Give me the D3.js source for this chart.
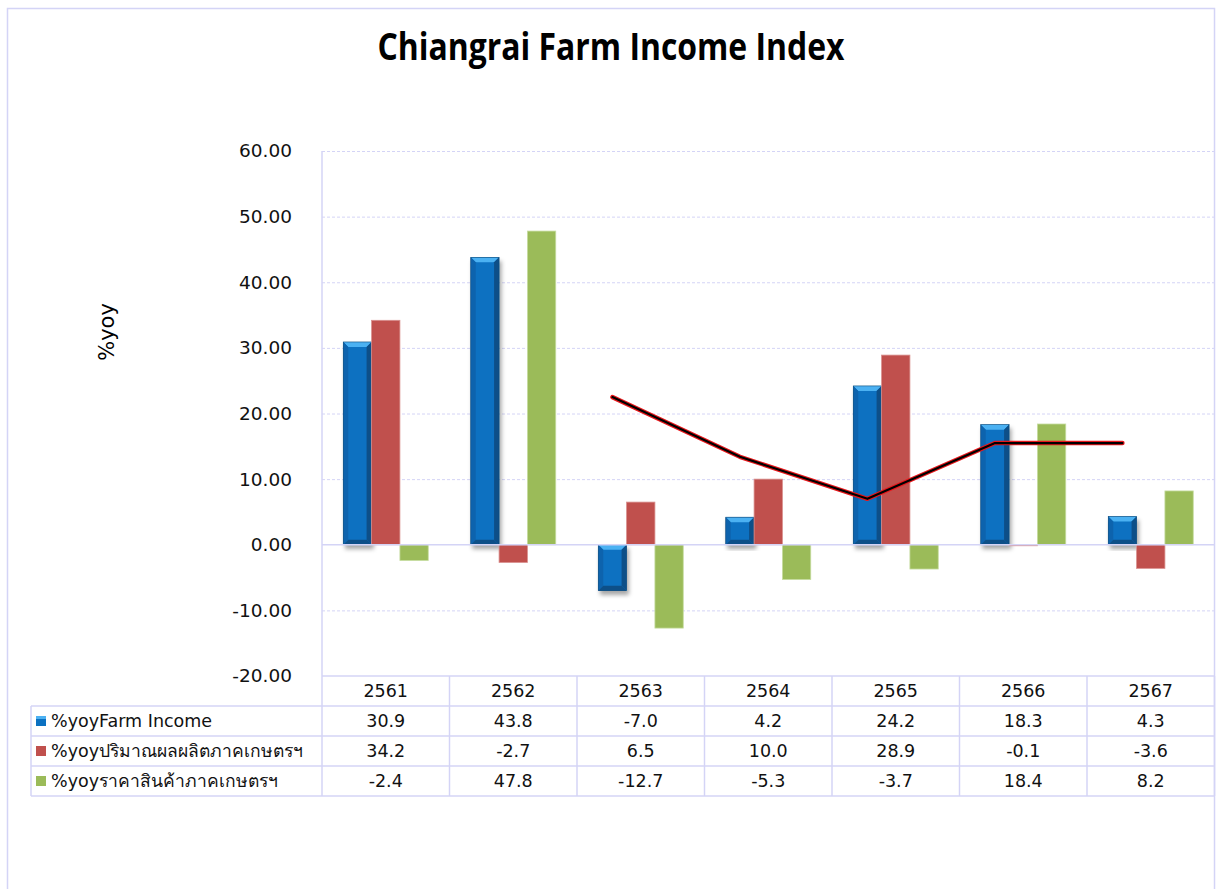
<!DOCTYPE html>
<html>
<head>
<meta charset="utf-8">
<script src="https://cdn.jsdelivr.net/npm/d3@7"></script>
<style>
  body { margin: 0; background: #fff; }
  svg { display: block; font-family: "DejaVu Sans", "Noto Sans", sans-serif; }
</style>
</head>
<body>
<svg id="chart" width="1216" height="889"></svg>
<script>
// chart values
const years = ["2561", "2562", "2563", "2564", "2565", "2566", "2567"];
const seriesNames = ["%yoyFarm Income", "%yoyปริมาณผลผลิตภาคเกษตรฯ", "%yoyราคาสินค้าภาคเกษตรฯ"];
const farmIncome = [30.9, 43.8, -7.0, 4.2, 24.2, 18.3, 4.3];
const farmOutput = [34.2, -2.7, 6.5, 10.0, 28.9, -0.1, -3.6];
const farmPrice = [-2.4, 47.8, -12.7, -5.3, -3.7, 18.4, 8.2];
// extra line drawn on the chart (not in the table)
const trendLine = [null, null, 22.5, 13.4, 7.0, 15.5, 15.5];
const yTicks = [60, 50, 40, 30, 20, 10, 0, -10, -20];

const series = [farmIncome, farmOutput, farmPrice];
const colors = ["#0b71c1", "#c0504d", "#9bbb59"];
const gridColor = "#d4d4f6";

const svg = d3.select("#chart");

const plot = { left: 322, right: 1214.5, top: 151, bottom: 676 };

const x = d3.scaleBand().domain(years).range([plot.left, plot.right]);
const xs = d3.scaleBand().domain([0, 1, 2]).range([0, x.bandwidth()]).paddingOuter(0.75);
const y = d3.scaleLinear().domain([-20, 60]).range([plot.bottom, plot.top]);

// defs: shadow for the bevelled bars
const defs = svg.append("defs");
const f = defs.append("filter").attr("id", "shadow")
  .attr("x", "-30%").attr("y", "-10%").attr("width", "160%").attr("height", "130%");
f.append("feDropShadow").attr("dx", 2).attr("dy", 4).attr("stdDeviation", 2.2)
  .attr("flood-color", "#000").attr("flood-opacity", 0.35);

// outer frame
svg.append("rect")
  .attr("x", 7.5).attr("y", 8.5).attr("width", 1207).attr("height", 900)
  .attr("fill", "none").attr("stroke", gridColor).attr("stroke-width", 1.5);

// title
svg.append("text")
  .attr("x", 611).attr("y", 60)
  .attr("text-anchor", "middle")
  .attr("font-family", "'Open Sans', Roboto, sans-serif")
  .attr("font-weight", "bold").attr("font-size", 37)
  .attr("textLength", 467).attr("lengthAdjust", "spacingAndGlyphs")
  .text("Chiangrai Farm Income Index");

// y axis title
svg.append("text")
  .attr("transform", "translate(114,332) rotate(-90)")
  .attr("text-anchor", "middle").attr("font-size", 21)
  .text("%yoy");

// grid
const grid = svg.append("g")
  .attr("transform", `translate(${plot.left},0)`)
  .call(d3.axisLeft(y).tickValues(yTicks.filter(d => d !== 0 && d !== -20))
    .tickSize(-(plot.right - plot.left)).tickFormat(""));
grid.select(".domain").remove();
grid.selectAll("line").attr("stroke", gridColor).attr("stroke-dasharray", "3,2");

// tick labels
const yAxis = svg.append("g")
  .attr("transform", `translate(${plot.left},0)`)
  .call(d3.axisLeft(y).tickValues(yTicks).tickSize(0).tickPadding(30)
    .tickFormat(d => d.toFixed(2)));
yAxis.select(".domain").remove();
yAxis.selectAll("text").attr("font-size", 18.5).attr("fill", "#111")
  .attr("font-family", "'DejaVu Sans', sans-serif");

// axis line
svg.append("line")
  .attr("x1", plot.left).attr("x2", plot.left)
  .attr("y1", plot.top).attr("y2", plot.bottom)
  .attr("stroke", gridColor).attr("stroke-width", 1.5);

// bars
const barData = [];
years.forEach((yr, i) => {
  series.forEach((s, k) => barData.push({ year: yr, k: k, v: s[i] }));
});

const bars = svg.append("g").selectAll("g.bar")
  .data(barData)
  .join("g")
  .attr("class", "bar");

bars.each(function (d) {
  const g = d3.select(this);
  const x0 = x(d.year) + xs(d.k);
  const w = xs.bandwidth();
  const y0 = Math.min(y(d.v), y(0));
  const y1 = Math.max(y(d.v), y(0));
  const h = y1 - y0;
  if (d.k === 0) {
    // bevelled blue bar
    const b = Math.min(5, w / 2, h / 2);
    const x1 = x0 + w;
    const bg = g.append("g").attr("filter", "url(#shadow)");
    bg.append("rect").attr("x", x0).attr("y", y0).attr("width", w).attr("height", h)
      .attr("fill", colors[0]);
    const poly = pts => pts.map(p => p.join(",")).join(" ");
    bg.append("polygon").attr("points", poly([[x0, y0], [x1, y0], [x1 - b, y0 + b], [x0 + b, y0 + b]]))
      .attr("fill", "#4cb1f2");
    bg.append("polygon").attr("points", poly([[x0, y0], [x0 + b, y0 + b], [x0 + b, y1 - b], [x0, y1]]))
      .attr("fill", "#0a63ad");
    bg.append("polygon").attr("points", poly([[x1, y0], [x1, y1], [x1 - b, y1 - b], [x1 - b, y0 + b]]))
      .attr("fill", "#0a4f88");
    bg.append("polygon").attr("points", poly([[x0, y1], [x1, y1], [x1 - b, y1 - b], [x0 + b, y1 - b]]))
      .attr("fill", "#0a4f88");
    bg.append("rect").attr("x", x0).attr("y", y0).attr("width", w).attr("height", h)
      .attr("fill", "none").attr("stroke", "#0d4a7a").attr("stroke-width", 0.6);
  } else {
    g.append("rect").attr("x", x0).attr("y", y0).attr("width", w).attr("height", Math.max(h, 1))
      .attr("fill", colors[d.k])
      .attr("stroke", d.k === 2 ? "#c6dca0" : "#d9908e").attr("stroke-width", 0.8);
  }
});

// zero line
svg.append("line")
  .attr("x1", plot.left).attr("x2", plot.right)
  .attr("y1", y(0)).attr("y2", y(0))
  .attr("stroke", gridColor).attr("stroke-width", 1.5);

// trend line, at the first bar's position
const lineGen = d3.line()
  .defined(d => d.v !== null)
  .x(d => x(d.year) + xs(0) + xs.bandwidth() / 2)
  .y(d => y(d.v));
const lineData = years.map((yr, i) => ({ year: yr, v: trendLine[i] }));
svg.append("path").datum(lineData).attr("d", lineGen)
  .attr("fill", "none").attr("stroke", "#e8171b").attr("stroke-width", 4.5)
  .attr("stroke-linejoin", "round").attr("stroke-linecap", "round");
svg.append("path").datum(lineData).attr("d", lineGen)
  .attr("fill", "none").attr("stroke", "#000").attr("stroke-width", 2.2)
  .attr("stroke-linejoin", "round").attr("stroke-linecap", "round");

// data table
const rowH = 30;
const tableTop = plot.bottom;
const legendLeft = 31;
const table = svg.append("g").attr("font-size", 17.5).attr("fill", "#111");

// grid lines of the table
const tl = table.append("g").attr("stroke", gridColor).attr("stroke-width", 1.5);
tl.append("line").attr("x1", plot.left).attr("x2", plot.right)
  .attr("y1", tableTop).attr("y2", tableTop);
d3.range(1, 5).forEach(r => {
  tl.append("line").attr("x1", legendLeft).attr("x2", plot.right)
    .attr("y1", tableTop + r * rowH).attr("y2", tableTop + r * rowH);
});
tl.append("line").attr("x1", legendLeft).attr("x2", legendLeft)
  .attr("y1", tableTop + rowH).attr("y2", tableTop + 4 * rowH);
years.forEach(yr => {
  tl.append("line").attr("x1", x(yr)).attr("x2", x(yr))
    .attr("y1", tableTop).attr("y2", tableTop + 4 * rowH);
});
tl.append("line").attr("x1", plot.right).attr("x2", plot.right)
  .attr("y1", tableTop).attr("y2", tableTop + 4 * rowH);

// header
table.selectAll("text.year").data(years).join("text")
  .attr("class", "year")
  .attr("x", d => x(d) + x.bandwidth() / 2)
  .attr("y", tableTop + rowH / 2)
  .attr("dy", "0.36em").attr("text-anchor", "middle")
  .text(d => d);

// rows
series.forEach((s, k) => {
  const ry = tableTop + (k + 1) * rowH;
  const row = table.append("g");
  row.append("rect").attr("x", 36).attr("y", ry + 10).attr("width", 10).attr("height", 10)
    .attr("fill", colors[k]);
  if (k === 0) {
    row.append("rect").attr("x", 36).attr("y", ry + 10).attr("width", 10).attr("height", 3)
      .attr("fill", "#4cb1f2");
  }
  row.append("text").attr("x", 51).attr("y", ry + rowH / 2).attr("dy", "0.36em")
    .text(seriesNames[k]);
  row.selectAll("text.val").data(s).join("text")
    .attr("class", "val")
    .attr("x", (d, i) => x(years[i]) + x.bandwidth() / 2)
    .attr("y", ry + rowH / 2).attr("dy", "0.36em").attr("text-anchor", "middle")
    .text(d => d.toFixed(1));
});
</script>
</body>
</html>
